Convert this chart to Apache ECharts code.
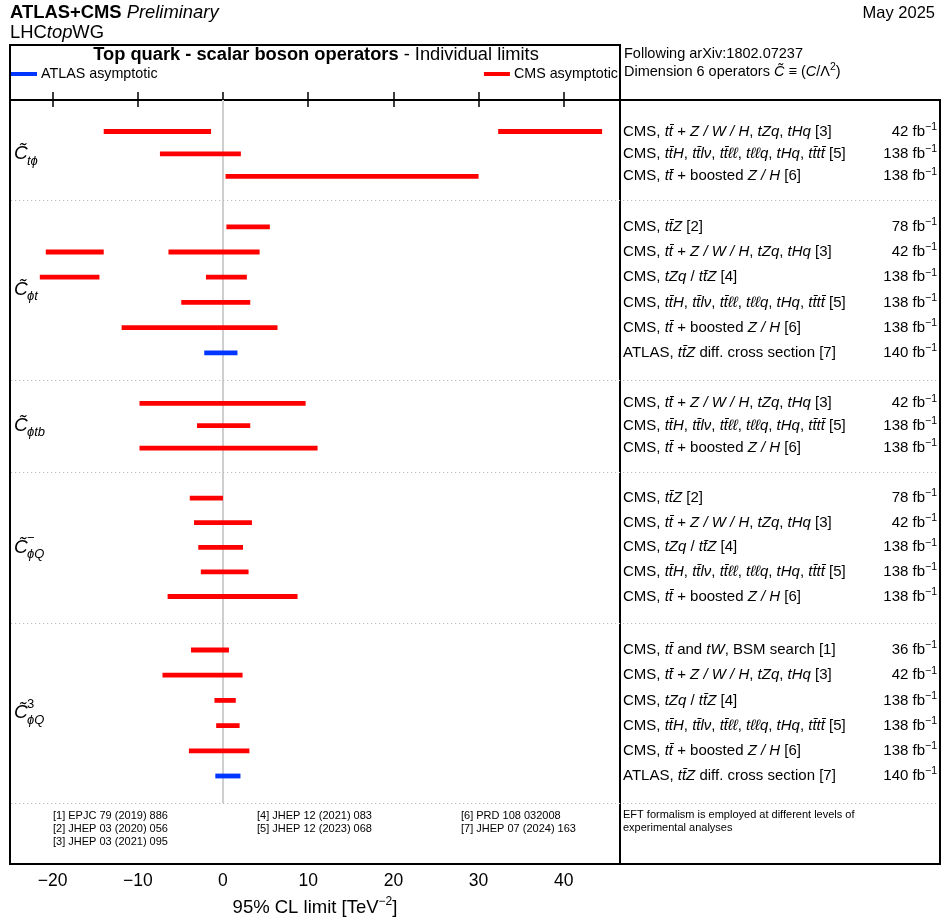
<!DOCTYPE html>
<html>
<head>
<meta charset="utf-8">
<title>Top quark - scalar boson operators</title>
<script src="https://cdn.jsdelivr.net/npm/echarts@6.0.0/dist/echarts.min.js"></script>
<style>
  html, body { margin: 0; padding: 0; background: #fff; }
  #chart { width: 943px; height: 918px; }
</style>
</head>
<body>
<div id="chart"></div>
<script>
const FAMILY = '"Liberation Sans", Arial, Helvetica, sans-serif';

// ---------------- data ----------------
// Analyses, referenced as [1]..[7]
const analysisText = [
  'CMS, {i|tt\u0304} and {i|tW}, BSM search [1]',
  'CMS, {i|tt\u0304Z} [2]',
  'CMS, {i|tt\u0304} + {i|Z / W / H}, {i|tZq}, {i|tHq} [3]',
  'CMS, {i|tZq} / {i|tt\u0304Z} [4]',
  'CMS, {i|tt\u0304H}, {i|tt\u0304l\u03bd}, {i|tt\u0304\u2113\u2113}, {i|t\u2113\u2113q}, {i|tHq}, {i|tt\u0304tt\u0304} [5]',
  'CMS, {i|tt\u0304} + boosted {i|Z / H} [6]',
  'ATLAS, {i|tt\u0304Z} diff. cross section [7]'
];
const analysisLumi = [36, 78, 42, 138, 138, 138, 140];
const analysisExperiment = ['CMS', 'CMS', 'CMS', 'CMS', 'CMS', 'CMS', 'ATLAS'];

const referenceList = [
  '[1] EPJC 79 (2019) 886',
  '[2] JHEP 03 (2020) 056',
  '[3] JHEP 03 (2021) 095',
  '[4] JHEP 12 (2021) 083',
  '[5] JHEP 12 (2023) 068',
  '[6] PRD 108 032008',
  '[7] JHEP 07 (2024) 163'
];

// Operator symbols: C~ with subscript / superscript
const operatorSub = ['t\u03d5', '\u03d5t', '\u03d5tb', '\u03d5Q', '\u03d5Q'];
const operatorSup = ['', '', '', '\u2212', '3'];

// 95% CL intervals [TeV^-2] per operator, one entry per analysis row
const ctphiRefs = [3, 5, 6];
const ctphiLimits = [[[-14.0, -1.4], [32.3, 44.5]], [[-7.4, 2.1]], [[0.3, 30.0]]];

const cphitRefs = [2, 3, 4, 5, 6, 7];
const cphitLimits = [[[0.4, 5.5]], [[-20.8, -14.0], [-6.4, 4.3]], [[-21.5, -14.5], [-2.0, 2.8]],
                     [[-4.9, 3.2]], [[-11.9, 6.4]], [[-2.2, 1.7]]];

const cphitbRefs = [3, 5, 6];
const cphitbLimits = [[[-9.8, 9.7]], [[-3.05, 3.2]], [[-9.8, 11.1]]];

const cphiQmRefs = [2, 3, 4, 5, 6];
const cphiQmLimits = [[[-3.9, 0.0]], [[-3.4, 3.4]], [[-2.9, 2.35]], [[-2.6, 3.0]], [[-6.5, 8.75]]];

const cphiQ3Refs = [1, 3, 4, 5, 6, 7];
const cphiQ3Limits = [[[-3.75, 0.7]], [[-7.1, 2.3]], [[-1.0, 1.5]], [[-0.8, 1.95]], [[-4.0, 3.1]], [[-0.9, 2.05]]];

const xTicks = [-20, -10, 0, 10, 20, 30, 40];

// ---------------- layout ----------------
const PLOT_LEFT = 10, PLOT_RIGHT = 620, PANEL_RIGHT = 940;
const PLOT_TOP = 100, PLOT_BOTTOM = 864, HEADER_TOP = 45;
const Y_SPAN = PLOT_BOTTOM - PLOT_TOP;   // vertical axis runs in layout units
const FIRST_GROUP_OFFSET = 8;
const ROW_FONT = 15;

const operatorGroups = [
  { refs: ctphiRefs, limits: ctphiLimits },
  { refs: cphitRefs, limits: cphitLimits },
  { refs: cphitbRefs, limits: cphitbLimits },
  { refs: cphiQmRefs, limits: cphiQmLimits },
  { refs: cphiQ3Refs, limits: cphiQ3Limits }
];

function rowPitch(n) { return n <= 3 ? 22.4 : (n === 5 ? 24.6 : 25.2); }
function groupPad(n) { return n <= 3 ? 23.5 : (n === 5 ? 26.5 : 27); }

const cmsBars = [], atlasBars = [], rowItems = [], groupItems = [], separatorItems = [];
let cursor = FIRST_GROUP_OFFSET;
operatorGroups.forEach((g, gi) => {
  const n = g.refs.length;
  const pitch = rowPitch(n), pad = groupPad(n);
  const height = pitch * (n - 1) + 2 * pad;
  g.refs.forEach((ref, ri) => {
    const y = cursor + pad + ri * pitch;
    rowItems.push([0, y, ref - 1]);
    const target = analysisExperiment[ref - 1] === 'ATLAS' ? atlasBars : cmsBars;
    g.limits[ri].forEach(([lo, hi]) => target.push([lo, hi, y]));
  });
  groupItems.push([0, cursor + height / 2, gi]);
  cursor += height;
  separatorItems.push([0, cursor]);
});
const zeroLineEnd = cursor;

// ---------------- rendering ----------------
const chart = echarts.init(document.getElementById('chart'), null, { renderer: 'canvas' });

function drawInterval(params, api) {
  const a = api.coord([api.value(0), api.value(2)]);
  const b = api.coord([api.value(1), api.value(2)]);
  return {
    type: 'rect',
    shape: { x: a[0], y: a[1] - 2.4, width: b[0] - a[0], height: 4.8 },
    style: { fill: api.visual('color') }
  };
}

const rowRich = {
  i: { fontStyle: 'italic', fontSize: ROW_FONT, fontFamily: FAMILY, lineHeight: 20, fill: '#000' },
  sup: { fontSize: 10.5, fontFamily: FAMILY, lineHeight: 10, verticalAlign: 'top', fill: '#000' }
};

function txt(x, y, text, opts) {
  return {
    type: 'text', x: x, y: y, silent: true,
    style: Object.assign({
      text: text, fill: '#000', fontFamily: FAMILY, fontSize: 14,
      align: 'left', verticalAlign: 'middle', textAlign: 'left', textVerticalAlign: 'middle'
    }, opts || {})
  };
}

const refColumns = [[0, 1, 2], [3, 4], [5, 6]];
const refColumnX = [53, 257, 461];
const refGraphics = [];
refColumns.forEach((col, ci) => col.forEach((ri, k) => {
  refGraphics.push(txt(refColumnX[ci], 816 + k * 13, referenceList[ri], { fontSize: 11 }));
}));

const legendText = { fontSize: 14.3, fontFamily: FAMILY, color: '#000', padding: [0, 0, 0, -1] };

const option = {
  backgroundColor: '#fff',
  animation: false,
  grid: {
    left: PLOT_LEFT, right: 943 - PLOT_RIGHT, top: PLOT_TOP, bottom: 918 - PLOT_BOTTOM,
    outerBoundsMode: 'none', containLabel: false,
    show: true, borderColor: '#000', borderWidth: 2, backgroundColor: 'transparent'
  },
  legend: [
    {
      data: ['ATLAS asymptotic'], left: 11, top: 67, icon: 'rect', itemWidth: 26, itemHeight: 4,
      itemGap: 4, selectedMode: false, padding: 0, textStyle: legendText
    },
    {
      data: ['CMS asymptotic'], right: 943 - 618, top: 67, icon: 'rect', itemWidth: 26, itemHeight: 4,
      itemGap: 4, selectedMode: false, padding: 0, textStyle: legendText
    }
  ],
  xAxis: [
    {
      type: 'value', position: 'bottom', min: -25, max: 46.6,
      axisLine: { show: false }, splitLine: { show: false },
      axisTick: { inside: true, length: 8, customValues: xTicks, lineStyle: { color: '#000', width: 1.5 } },
      axisLabel: {
        customValues: xTicks, fontSize: 17.5, color: '#000', fontFamily: FAMILY, margin: 8,
        formatter: v => (v < 0 ? '\u2212' + Math.abs(v) : String(v))
      },
      name: '95% CL limit [TeV{sup|\u22122}]', nameLocation: 'middle', nameGap: 32,
      nameTextStyle: {
        fontSize: 18.5, color: '#000', fontFamily: FAMILY, lineHeight: 24,
        rich: { sup: { fontSize: 12, fontFamily: FAMILY, color: '#000', lineHeight: 13, verticalAlign: 'top' } }
      }
    },
    {
      type: 'value', position: 'top', min: -25, max: 46.6,
      axisLine: { show: false }, splitLine: { show: false },
      axisTick: { inside: true, length: 7, customValues: xTicks, lineStyle: { color: '#000', width: 1.5 } },
      axisLabel: { show: false }
    }
  ],
  yAxis: { type: 'value', min: 0, max: Y_SPAN, inverse: true, show: false },
  series: [
    {
      // vertical reference line at zero
      type: 'custom', silent: true, z: 1,
      dimensions: ['x', 'y0', 'y1'], encode: { x: 'x', y: ['y0', 'y1'] },
      data: [[0, 0, zeroLineEnd]],
      renderItem(params, api) {
        const a = api.coord([0, api.value(1)]);
        const b = api.coord([0, api.value(2)]);
        return { type: 'line', shape: { x1: a[0], y1: a[1], x2: b[0], y2: b[1] },
                 style: { stroke: '#cfcfcf', lineWidth: 2 } };
      }
    },
    {
      // dotted separators between operator groups, running across the side panel
      type: 'custom', silent: true, z: 1,
      dimensions: ['x', 'y'], encode: { x: 'x', y: 'y' },
      data: separatorItems,
      renderItem(params, api) {
        const y = Math.round(api.coord([0, api.value(1)])[1]) + 0.5;
        return { type: 'line', shape: { x1: PLOT_LEFT + 1, y1: y, x2: PANEL_RIGHT - 1, y2: y },
                 style: { stroke: '#bdbdbd', lineWidth: 1, lineDash: [1.2, 2.8] } };
      }
    },
    {
      name: 'CMS asymptotic', type: 'custom', z: 3,
      itemStyle: { color: '#ff0000' },
      dimensions: ['lo', 'hi', 'y'], encode: { x: ['lo', 'hi'], y: 'y' },
      data: cmsBars, renderItem: drawInterval
    },
    {
      name: 'ATLAS asymptotic', type: 'custom', z: 3,
      itemStyle: { color: '#0036ff' },
      dimensions: ['lo', 'hi', 'y'], encode: { x: ['lo', 'hi'], y: 'y' },
      data: atlasBars, renderItem: drawInterval
    },
    {
      // analysis description and luminosity in the side panel
      type: 'custom', silent: true, z: 3,
      dimensions: ['x', 'y', 'ref'], encode: { x: 'x', y: 'y' },
      data: rowItems,
      renderItem(params, api) {
        const y = api.coord([0, api.value(1)])[1];
        const idx = api.value(2);
        return {
          type: 'group',
          children: [
            { type: 'text', x: 623, y: y, style: {
                text: analysisText[idx], rich: rowRich, fill: '#000', fontSize: ROW_FONT, fontFamily: FAMILY,
                lineHeight: 20, align: 'left', verticalAlign: 'middle' } },
            { type: 'text', x: 937, y: y, style: {
                text: analysisLumi[idx] + ' fb{sup|\u22121}', rich: rowRich, fill: '#000', fontSize: ROW_FONT,
                fontFamily: FAMILY, lineHeight: 20, align: 'right', verticalAlign: 'middle' } }
          ]
        };
      }
    },
    {
      // operator symbols on the left of each group
      type: 'custom', silent: true, z: 3,
      dimensions: ['x', 'y', 'op'], encode: { x: 'x', y: 'y' },
      data: groupItems,
      renderItem(params, api) {
        const y = api.coord([0, api.value(1)])[1];
        const gi = api.value(2);
        const x = 14;
        const children = [
          { type: 'text', x: x, y: y, style: { text: 'C\u0303', fill: '#000', fontSize: 19, fontStyle: 'italic',
              fontFamily: FAMILY, align: 'left', verticalAlign: 'middle' } },
          { type: 'text', x: x + 13, y: y + 7, style: { text: operatorSub[gi], fill: '#000', fontSize: 13,
              fontStyle: 'italic', fontFamily: FAMILY, align: 'left', verticalAlign: 'middle' } }
        ];
        if (operatorSup[gi]) {
          children.push({ type: 'text', x: x + 13, y: y - 9, style: { text: operatorSup[gi], fill: '#000',
              fontSize: 13, fontFamily: FAMILY, align: 'left', verticalAlign: 'middle' } });
        }
        return { type: 'group', children: children };
      }
    }
  ],
  graphic: {
    elements: [
      // header box above the plot, and the side-panel frame
      { type: 'rect', silent: true, shape: { x: PLOT_LEFT, y: HEADER_TOP, width: PLOT_RIGHT - PLOT_LEFT, height: PLOT_TOP - HEADER_TOP },
        style: { fill: 'none', stroke: '#000', lineWidth: 2 } },
      { type: 'polyline', silent: true,
        shape: { points: [[PLOT_RIGHT, PLOT_TOP], [PANEL_RIGHT, PLOT_TOP], [PANEL_RIGHT, PLOT_BOTTOM], [PLOT_RIGHT, PLOT_BOTTOM]] },
        style: { fill: 'none', stroke: '#000', lineWidth: 2 } },

      txt(10, 13, '{b|ATLAS+CMS} {i|Preliminary}', {
        fontSize: 18.4, rich: {
          b: { fontWeight: 'bold', fontSize: 18.4, fontFamily: FAMILY, fill: '#000' },
          i: { fontStyle: 'italic', fontSize: 18.4, fontFamily: FAMILY, fill: '#000' } } }),
      txt(10, 33, 'LHC{i|top}WG', {
        fontSize: 18.4, rich: { i: { fontStyle: 'italic', fontSize: 18.4, fontFamily: FAMILY, fill: '#000' } } }),
      txt(935, 13, 'May 2025', { fontSize: 16.5, align: 'right', textAlign: 'right' }),

      txt(316, 55, '{b|Top quark - scalar boson operators} - Individual limits', {
        fontSize: 18.3, align: 'center', textAlign: 'center',
        rich: { b: { fontWeight: 'bold', fontSize: 18.3, fontFamily: FAMILY, fill: '#000' } } }),

      txt(624, 54, 'Following arXiv:1802.07237', { fontSize: 14.5 }),
      txt(624, 72, 'Dimension 6 operators {i|C\u0303} \u2261 ({i|C}/\u039b{sup|2})', {
        fontSize: 14.5, lineHeight: 20, rich: {
          i: { fontStyle: 'italic', fontSize: 14.5, fontFamily: FAMILY, fill: '#000', lineHeight: 20 },
          sup: { fontSize: 10.5, fontFamily: FAMILY, fill: '#000', lineHeight: 10, verticalAlign: 'top' } } }),

      ...refGraphics,
      txt(623, 815, 'EFT formalism is employed at different levels of', { fontSize: 11 }),
      txt(623, 828, 'experimental analyses', { fontSize: 11 })
    ]
  }
};

chart.setOption(option);
</script>
</body>
</html>
